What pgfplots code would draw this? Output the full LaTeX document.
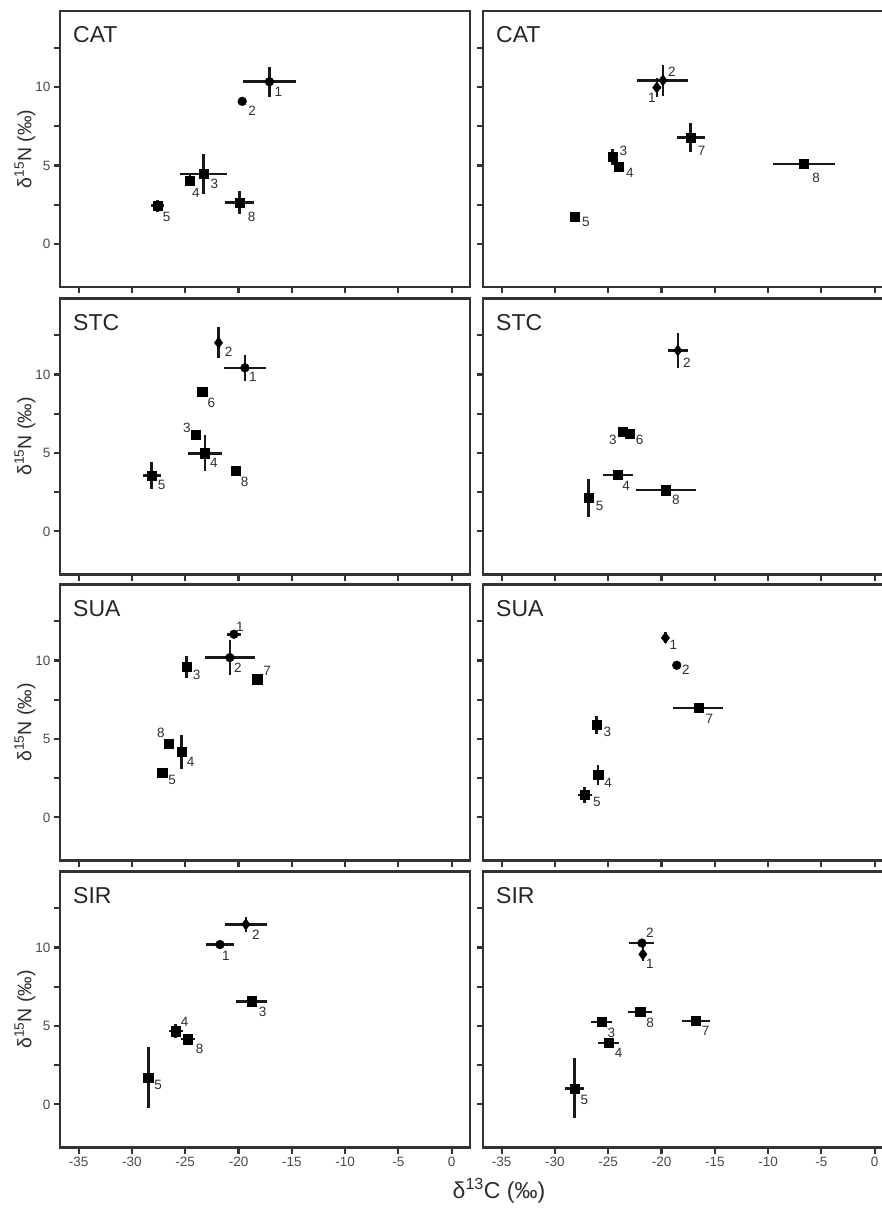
\documentclass[border=0pt]{standalone}
\usepackage{fontspec}
\setmainfont{Liberation Sans}
\usepackage{pgfplots}
\pgfplotsset{compat=1.18}
\definecolor{framec}{HTML}{333333}
\definecolor{tickc}{HTML}{4A4A4A}
\definecolor{labc}{HTML}{2E2E2E}
\pgfplotsset{
  panel/.style={
    scale only axis, width=410pt, height=276pt, anchor=north west,
    xmin=-36.75, xmax=1.72, ymin=-2.75, ymax=14.85,
    axis line style={draw=framec, line width=2.5pt},
    tick pos=left, tick align=outside, major tick length=6pt,
    tick style={draw=framec, line width=2.2pt},
    xtick={-35,-30,...,0}, ytick={0,2.5,...,12.5},
    yticklabels={0,,5,,10,},
    ticklabel style={font=\fontsize{13.5}{15}\selectfont, text=tickc},
    /pgf/number format/assume math mode=true,
    clip=false,
    every axis y label/.style={at={(rel axis cs:0,0.5)}, xshift=-35pt, rotate=90, anchor=center, font=\fontsize{19.5}{20}\selectfont, text=labc},
  },
  nox/.style={xticklabels={}},
  noy/.style={yticklabels={}},
  ylab/.style={ylabel={δ\textsuperscript{15}N (‰)}},
  pts/.style={only marks, black, mark options={solid, fill=black, draw=black, line width=0.4pt},
    error bars/x dir=both, error bars/x explicit, error bars/y dir=both, error bars/y explicit,
    error bars/error mark=none, error bars/error bar style={line width=2.6pt, black!90, solid},
    nodes near coords, point meta=explicit symbolic,
    visualization depends on={value \thisrow{dx}\as\dx},
    visualization depends on={value \thisrow{dy}\as\dy},
    every node near coord/.append style={anchor=center, inner sep=0pt, font=\fontsize{13.5}{14}\selectfont, text=labc, xshift=\dx pt, yshift=\dy pt},
  },
  sq/.style={pts, mark=square*, mark size=4.6pt},
  ci/.style={pts, mark=*, mark size=4.4pt},
  di/.style={pts, mark=diamond*, mark size=5.6pt},
}
\newcommand{\ttl}[1]{\node[anchor=north west, inner sep=0pt, font=\fontsize{23}{24}\selectfont, text=black!85, xshift=13pt, yshift=-15.5pt] at (rel axis cs:0,1) {#1};}
\begin{document}
\begin{tikzpicture}
% ---------- Row 1: CAT ----------
\begin{axis}[panel, nox, ylab, at={(60pt,-11pt)}]
\addplot[ci] table[x=x,y=y,x error=ex,y error=ey,meta=lab] {
x y ex ey dx dy lab
-17.1 10.34 2.5 0.96 9 -10 1
-19.65 9.09 0 0 10 -9 2
};
\addplot[sq] table[x=x,y=y,x error=ex,y error=ey,meta=lab] {
x y ex ey dx dy lab
-23.3 4.45 2.2 1.25 11 -10 3
-24.56 4.05 0.15 0.35 6 -12 4
-27.6 2.43 0.6 0.4 9 -11 5
-19.9 2.63 1.35 0.75 12 -14 8
};
\ttl{CAT}
\end{axis}
\begin{axis}[panel, nox, noy, at={(483pt,-11pt)}]
\addplot[di] table[x=x,y=y,x error=ex,y error=ey,meta=lab] {
x y ex ey dx dy lab
-20.44 9.97 0.4 0.6 -5 -10 1
-19.87 10.43 2.4 1.0 9 9 2
};
\addplot[sq] table[x=x,y=y,x error=ex,y error=ey,meta=lab] {
x y ex ey dx dy lab
-24.6 5.54 0 0.5 11 6 3
-24.0 4.9 0 0.3 11 -6 4
-28.14 1.71 0 0 11 -5 5
-17.26 6.78 1.3 0.95 11 -13 7
-6.63 5.1 2.95 0 12 -14 8
};
\ttl{CAT}
\end{axis}
% ---------- Row 2: STC ----------
\begin{axis}[panel, nox, ylab, at={(60pt,-298.5pt)}]
\addplot[ci] table[x=x,y=y,x error=ex,y error=ey,meta=lab] {
x y ex ey dx dy lab
-19.4 10.43 1.94 0.84 8 -9 1
};
\addplot[di] table[x=x,y=y,x error=ex,y error=ey,meta=lab] {
x y ex ey dx dy lab
-21.87 12.03 0 1.0 10 -9 2
};
\addplot[sq] table[x=x,y=y,x error=ex,y error=ey,meta=lab] {
x y ex ey dx dy lab
-24.0 6.15 0.3 0.25 -9 7 3
-23.15 4.98 1.63 1.14 9 -10 4
-28.15 3.57 0.85 0.88 10 -10 5
-23.4 8.91 0 0 9 -11 6
-20.27 3.85 0 0.3 9 -11 8
};
\ttl{STC}
\end{axis}
\begin{axis}[panel, nox, noy, at={(483pt,-298.5pt)}]
\addplot[di] table[x=x,y=y,x error=ex,y error=ey,meta=lab] {
x y ex ey dx dy lab
-18.47 11.54 0.93 1.09 9 -12 2
};
\addplot[sq] table[x=x,y=y,x error=ex,y error=ey,meta=lab] {
x y ex ey dx dy lab
-23.62 6.37 0 0 -10 -8 3
-23.0 6.24 0 0 10 -6 6
-24.08 3.59 1.45 0 8 -11 4
-26.83 2.13 0 1.22 11 -8 5
-19.6 2.63 2.84 0.25 10 -10 8
};
\ttl{STC}
\end{axis}
% ---------- Row 3: SUA ----------
\begin{axis}[panel, nox, ylab, at={(60pt,-584.5pt)}]
\addplot[ci] table[x=x,y=y,x error=ex,y error=ey,meta=lab] {
x y ex ey dx dy lab
-20.43 11.68 0.66 0 6 7 1
-20.81 10.19 2.37 1.14 8 -10 2
};
\addplot[sq] table[x=x,y=y,x error=ex,y error=ey,meta=lab] {
x y ex ey dx dy lab
-24.87 9.59 0.4 0.71 10 -8 3
-25.34 4.17 0.4 1.07 9 -10 4
-27.16 2.83 0 0 10 -7 5
-18.25 8.81 0 0 10 8 7
-26.53 4.7 0 0 -8 11 8
};
\ttl{SUA}
\end{axis}
\begin{axis}[panel, nox, noy, at={(483pt,-584.5pt)}]
\addplot[di] table[x=x,y=y,x error=ex,y error=ey,meta=lab] {
x y ex ey dx dy lab
-19.63 11.45 0 0.35 8 -7 1
};
\addplot[ci] table[x=x,y=y,x error=ex,y error=ey,meta=lab] {
x y ex ey dx dy lab
-18.57 9.7 0 0 9 -5 2
};
\addplot[sq] table[x=x,y=y,x error=ex,y error=ey,meta=lab] {
x y ex ey dx dy lab
-26.11 5.9 0 0.56 11 -7 3
-25.95 2.72 0 0.65 10 -8 4
-27.2 1.43 0.67 0.52 12 -7 5
-16.54 6.98 2.34 0 11 -11 7
};
\ttl{SUA}
\end{axis}
% ---------- Row 4: SIR ----------
\begin{axis}[panel, ylab, at={(60pt,-871.5pt)}]
\addplot[ci] table[x=x,y=y,x error=ex,y error=ey,meta=lab] {
x y ex ey dx dy lab
-21.74 10.19 1.33 0 6 -11 1
};
\addplot[di] table[x=x,y=y,x error=ex,y error=ey,meta=lab] {
x y ex ey dx dy lab
-19.31 11.48 2.0 0.48 10 -10 2
};
\addplot[sq] table[x=x,y=y,x error=ex,y error=ey,meta=lab] {
x y ex ey dx dy lab
-18.77 6.58 1.45 0 11 -11 3
-25.9 4.67 0.65 0.45 9 9 4
-28.47 1.72 0 1.95 10 -8 5
-24.77 4.16 0.65 0.35 12 -10 8
};
\ttl{SIR}
\end{axis}
\begin{axis}[panel, noy, at={(483pt,-871.5pt)}]
\addplot[di] table[x=x,y=y,x error=ex,y error=ey,meta=lab] {
x y ex ey dx dy lab
-21.75 9.57 0 0.45 7 -10 1
};
\addplot[ci] table[x=x,y=y,x error=ex,y error=ey,meta=lab] {
x y ex ey dx dy lab
-21.84 10.29 1.17 0 8 10 2
};
\addplot[sq] table[x=x,y=y,x error=ex,y error=ey,meta=lab] {
x y ex ey dx dy lab
-25.65 5.26 0.97 0.3 10 -11 3
-24.96 3.92 0.98 0 10 -10 4
-28.17 1.02 0.93 1.91 10 -12 5
-16.79 5.33 1.33 0.2 10 -10 7
-22.0 5.9 1.1 0 10 -11 8
};
\ttl{SIR}
\end{axis}
\node[font=\fontsize{23}{24}\selectfont, text=labc] at (499pt,-1191pt) {δ\textsuperscript{13}C (‰)};
\pgfresetboundingbox
\useasboundingbox (0pt,0pt) rectangle (881pt,-1210pt);
\end{tikzpicture}
\end{document}
